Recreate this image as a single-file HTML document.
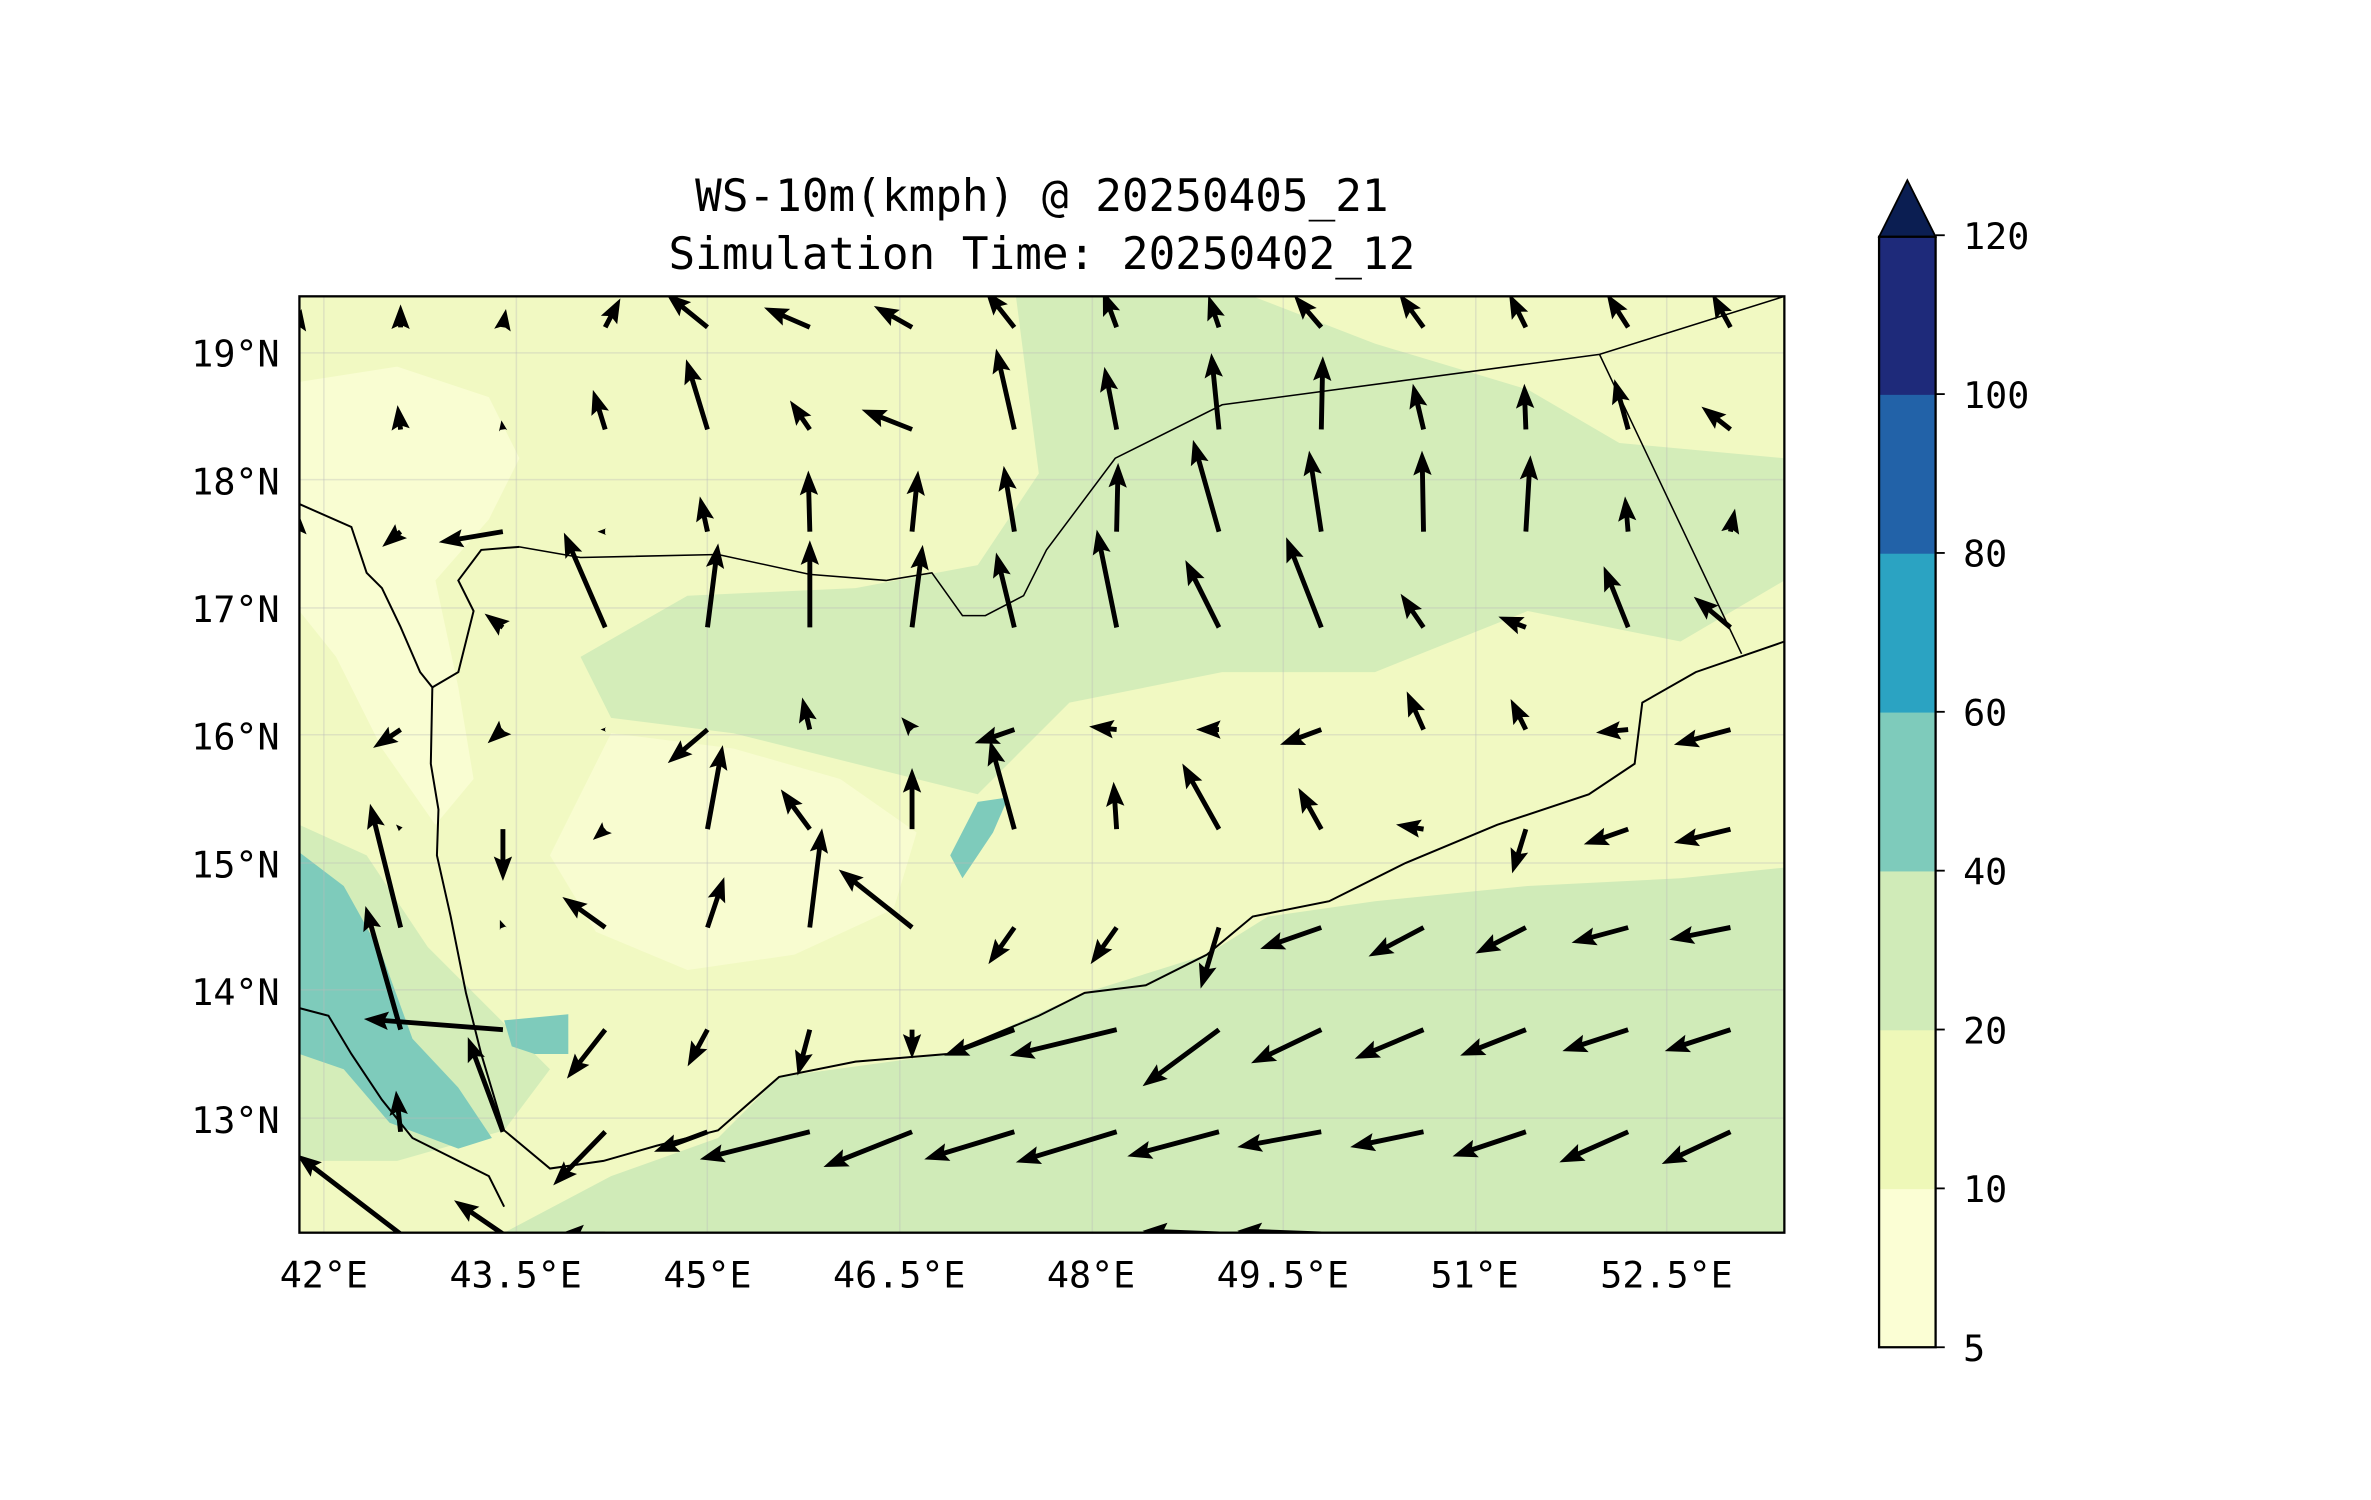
<!DOCTYPE html>
<html><head><meta charset="utf-8"><style>
html,body{margin:0;padding:0;background:#fff;}
svg{display:block;}
text{font-family:"DejaVu Sans Mono","Liberation Mono",monospace;fill:#000;}
</style></head><body>
<svg id="chart" width="2371" height="1500" viewBox="0 0 1552 982" preserveAspectRatio="none" xmlns="http://www.w3.org/2000/svg">
<rect width="1552" height="982" fill="#fff"/>
<text x="682" y="138" font-size="29" text-anchor="middle">WS-10m(kmph) @ 20250405_21</text>
<text x="682" y="176" font-size="29" text-anchor="middle">Simulation Time: 20250402_12</text>
<defs><clipPath id="mapclip"><rect x="196" y="194" width="972" height="613"/></clipPath></defs>
<g id="map" clip-path="url(#mapclip)">
<rect x="196" y="194" width="972" height="613" fill="#f1f9c2"/>
<polygon fill="#f9fdd2" points="196,250 260,240 320,260 340,300 320,340 285,380 300,450 310,510 285,540 250,490 220,430 196,400"/>
<polygon fill="#f8fcd0" points="400,480 480,490 550,510 600,545 585,595 520,625 450,635 390,610 360,560"/>
<polygon fill="#d4edb9" points="380,430 450,390 560,385 640,370 680,310 665,194 820,194 900,225 1000,255 1060,290 1168,300 1168,380 1100,420 1000,400 900,440 800,440 700,460 640,520 560,500 480,480 400,470"/>
<polygon fill="#d4edb9" points="196,540 240,560 280,620 320,660 360,700 330,740 260,760 196,760"/>
<polygon fill="#7ecbbb" points="196,558 225,580 250,625 270,680 300,712 322,745 300,752 255,735 225,700 196,690"/>
<polygon fill="#7ecbbb" points="330,668 372,664 372,690 350,690 335,685"/>
<polygon fill="#7ecbbb" points="640,525 660,522 650,545 630,575 622,560"/>
<polygon fill="#d0ebb8" points="330,807 400,770 470,745 510,705 620,690 710,650 790,625 830,600 900,590 1000,580 1100,575 1168,568 1168,807"/>
<g stroke="#bbb" stroke-opacity="0.35" stroke-width="1">
<line x1="212" y1="194" x2="212" y2="807"/><line x1="338" y1="194" x2="338" y2="807"/><line x1="463" y1="194" x2="463" y2="807"/><line x1="589" y1="194" x2="589" y2="807"/><line x1="715" y1="194" x2="715" y2="807"/><line x1="840" y1="194" x2="840" y2="807"/><line x1="966" y1="194" x2="966" y2="807"/><line x1="1091" y1="194" x2="1091" y2="807"/>
<line x1="196" y1="231" x2="1168" y2="231"/><line x1="196" y1="314" x2="1168" y2="314"/><line x1="196" y1="398" x2="1168" y2="398"/><line x1="196" y1="481" x2="1168" y2="481"/><line x1="196" y1="565" x2="1168" y2="565"/><line x1="196" y1="648" x2="1168" y2="648"/><line x1="196" y1="732" x2="1168" y2="732"/>
</g>
<polyline fill="none" stroke="#000" stroke-width="1.3" points="196,330 230,345 240,375 250,385 262,410 275,440 283,450 282,500 287,530 286,560 295,600 305,650 315,690 330,740 360,765 395,760 430,750 470,740 510,705 560,695 620,690 680,665 710,650 750,645 790,625 820,600 870,590 920,565 980,540 1040,520 1070,500 1075,460 1110,440 1168,420"/>
<polyline fill="none" stroke="#000" stroke-width="1.3" points="283,450 300,440 310,400 300,380 315,360 340,358"/>
<polyline fill="none" stroke="#000" stroke-width="1.3" points="196,660 215,665 230,690 250,720 270,745 300,760 320,770 330,790"/>
<polyline fill="none" stroke="#000" stroke-width="1" points="340,358 380,365 470,363 530,376 580,380 610,375 630,403 645,403 670,390 685,360 730,300 800,265 1047,232 1168,194"/>
<polyline fill="none" stroke="#000" stroke-width="1" points="1047,232 1140,428"/>
<g id="arrows"></g>
</g>
<rect x="196" y="194" width="972" height="613" fill="none" stroke="#000" stroke-width="1.5"/>
<g id="axes"></g>
<g id="cbar"></g>
</svg>
<script>
// grid of wind vectors (display-pixel components; v positive = northward)
const lons = [41.8,42.6,43.4,44.2,45.0,45.8,46.6,47.4,48.2,49.0,49.8,50.6,51.4,52.2,53.0];
const lats = [19.2,18.4,17.6,16.85,16.05,15.27,14.5,13.7,12.9,12.1];
const U = [
 [2,0,2,10,-27,-30,-25,-19,-9,-7,-18,-16,-11,-14,-12],
 [0,-2,-1,-8,-14,-13,-33,-12,-8,-5,1,-7,-1,-9,-19],
 [0,-12,-42,-5,-5,-1,4,-7,1,-17,-8,-1,3,-2,3],
 [0,0,-12,-27,7,0,7,-12,-13,-22,-23,-15,-18,-16,-24],
 [0,-18,-10,-3,-26,-5,-7,-26,-18,-15,-27,-11,-10,-21,-37],
 [0,-3,0,-8,10,-19,0,-16,-2,-24,-15,-18,-9,-29,-37],
 [0,-20,-2,-28,11,8,-48,-17,-17,-12,-40,-36,-33,-37,-40],
 [0,-23,-91,-25,-13,-8,0,-46,-70,-50,-46,-45,-43,-43,-43],
 [0,-3,-23,-34,-35,-72,-58,-59,-66,-60,-55,-48,-48,-45,-45],
 [0,-68,-32,-30,0,0,0,0,0,-50,-55,0,0,0,0]
];
const V = [
 [12,15,12,19,22,13,14,24,24,21,21,22,22,22,22],
 [0,16,6,26,46,19,13,53,41,50,48,30,30,33,15],
 [12,-10,-7,0,23,40,40,43,45,60,53,53,50,23,15],
 [0,0,9,62,55,57,54,49,64,44,59,22,7,40,20],
 [0,-12,-9,0,-22,21,8,-9,2,0,-10,25,20,-2,-10],
 [0,3,-34,-7,55,26,40,58,31,43,27,3,-29,-10,-9],
 [0,81,5,20,33,65,38,-24,-24,-40,-14,-19,-17,-10,-8],
 [0,81,7,-32,-24,-30,-19,-17,-17,-37,-22,-19,-17,-14,-14],
 [0,27,62,-35,-13,-18,-23,-18,-20,-16,-10,-10,-16,-20,-21],
 [0,52,22,0,0,0,0,0,0,2,2,0,0,0,0]
];
const latTicks = [19,18,17,16,15,14,13];
const lonTicks = [42,43.5,45,46.5,48,49.5,51,52.5];
const cbLevels = [5,10,20,40,60,80,100,120];
const cbColors = ["#fbfed4","#eef8b8","#d0ebb8","#7ecbbb","#2ba3c2","#2262a8","#1e2a7a"];
const cbExtendColor = "#0b1e52";

const NS="http://www.w3.org/2000/svg";
function xOf(lon){return 212+(lon-42)*83.7;}
function yOf(lat){return 231-(lat-19)*83.6;}
function mk(tag,attrs,parent){const e=document.createElementNS(NS,tag);for(const k in attrs)e.setAttribute(k,attrs[k]);parent.appendChild(e);return e;}

const ag=document.getElementById('arrows');
for(let r=0;r<lats.length;r++){
 for(let c=0;c<lons.length;c++){
  const dx=U[r][c], dy=-V[r][c];
  const L=Math.hypot(dx,dy); if(L<3) continue;
  const x0=xOf(lons[c]), y0=yOf(lats[r]);
  const ux=dx/L, uy=dy/L, px=-uy, py=ux;
  const hl=Math.min(14,L), hw=Math.min(6,L*0.45), sw=1.6, ha=hl*0.85;
  const bx=x0+ux*(L-hl), by=y0+uy*(L-hl);
  const tx=x0+dx, ty=y0+dy;
  const pts=[
   [x0+px*sw,y0+py*sw],[bx+px*sw,by+py*sw],[bx+px*hw-ux*(hl-ha),by+py*hw-uy*(hl-ha)],[tx,ty],
   [bx-px*hw-ux*(hl-ha),by-py*hw-uy*(hl-ha)],[bx-px*sw,by-py*sw],[x0-px*sw,y0-py*sw]];
  const p=mk('polygon',{points:pts.map(q=>q[0].toFixed(1)+','+q[1].toFixed(1)).join(' '),fill:'#000'},ag);
  
  
 }
}
const ax=document.getElementById('axes');
latTicks.forEach(l=>{
 const t=mk('text',{x:183,y:yOf(l)+9,'font-size':24,'text-anchor':'end'},ax);
 t.textContent=l+'°N';
 
 
});
lonTicks.forEach(l=>{
 const t=mk('text',{x:xOf(l),y:843,'font-size':24,'text-anchor':'middle'},ax);
 t.textContent=l+'°E';
 
 
});
const cb=document.getElementById('cbar');
const cx=1230,cw=37,ctop=155,cstep=104;
function cbY(i){return 882-i*cstep;}
for(let i=0;i<cbColors.length;i++){
 const r=mk('rect',{x:cx,y:cbY(i+1),width:cw,height:cstep+0.5,fill:cbColors[i]},cb);
 
 
}
const ext=mk('polygon',{points:`${cx},${ctop} ${cx+cw/2},118 ${cx+cw},${ctop}`,fill:cbExtendColor,stroke:'#000','stroke-width':1.2},cb);


const out=mk('polygon',{points:`${cx},${ctop} ${cx},882 ${cx+cw},882 ${cx+cw},${ctop}`,fill:'none',stroke:'#000','stroke-width':1.5},cb);


cbLevels.forEach((v,i)=>{
 const y=cbY(i);
 mk('line',{x1:cx+cw,y1:y,x2:cx+cw+6,y2:y,stroke:'#000','stroke-width':1.2},cb);
 const t=mk('text',{x:cx+cw+18,y:y+9,'font-size':24},cb);
 t.textContent=v;
 
 
});
</script>
</body></html>
